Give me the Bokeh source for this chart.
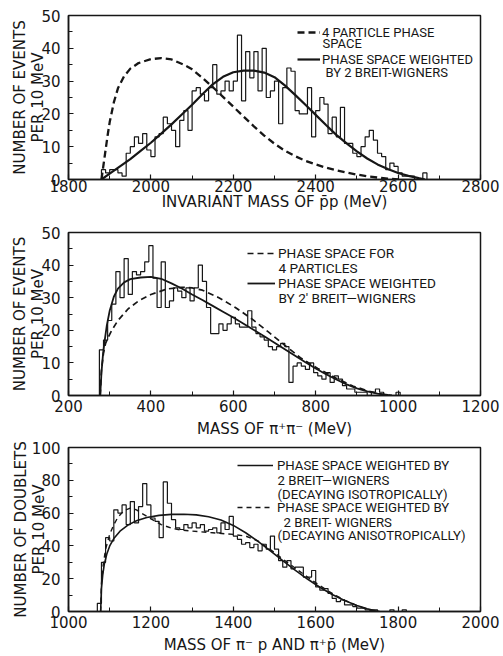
from bokeh.plotting import figure
from bokeh.layouts import column
from bokeh.models import Range1d, SingleIntervalTicker, Legend, LegendItem, Label
from bokeh.embed import file_html
from bokeh.resources import INLINE

INK = "#161616"
NUM_FONT = "DejaVu Sans"
LEG_FONT = "Roboto"

# ---------------- Panel 1: invariant mass of p-bar p ----------------
p1_bin_start = 1880
p1_bin_width = 10
p1_counts = [3, 2, 3, 3, 2, 1, 8, 10, 13, 11, 14, 9, 7, 13, 14, 19, 17, 15, 10, 18,
             21, 15, 27, 28, 26, 24, 28, 35, 26, 27, 30, 27, 30, 44, 24, 39, 31, 39, 27, 40,
             25, 27, 30, 17, 28, 34, 33, 21, 20, 20, 28, 13, 21, 25, 23, 14, 19, 13, 22, 11,
             11, 8, 7, 10, 13, 15, 12, 8, 7, 3, 5, 4, 2, 1, 1, 1, 0, 0, 2]
p1_ps_mass = [1880, 1885, 1890, 1895, 1900, 1910, 1920, 1935, 1950, 1970, 2000, 2025, 2050,
              2080, 2100, 2125, 2150, 2175, 2200, 2225, 2250, 2275, 2300, 2325, 2350, 2375,
              2400, 2425, 2450, 2475, 2500, 2525, 2550, 2575, 2600]
p1_ps_vals = [0, 4.5, 9, 13.5, 17.5, 23.5, 27.8, 31.5, 33.8, 35.5, 36.7, 37.0, 36.6,
              35.0, 33.6, 31.0, 28.2, 25.2, 22.2, 19.2, 16.2, 13.4, 10.9, 8.8, 7.1, 5.7,
              4.6, 3.6, 2.8, 2.1, 1.5, 1.0, 0.6, 0.25, 0]
p1_bw_mass = [1880, 1900, 1925, 1950, 1975, 2000, 2025, 2050, 2075, 2100, 2125, 2150, 2175,
              2200, 2225, 2250, 2275, 2300, 2325, 2350, 2375, 2400, 2425, 2450, 2475, 2500,
              2525, 2550, 2575, 2600, 2625, 2650, 2665]
p1_bw_vals = [0, 1.8, 4.0, 6.2, 8.7, 11.2, 14.0, 16.8, 19.8, 22.8, 26.0, 29.0, 31.3,
              32.7, 33.2, 33.2, 32.6, 31.2, 28.7, 25.8, 22.8, 19.7, 16.6, 13.6, 11.0, 8.6,
              6.4, 4.6, 3.2, 2.0, 1.1, 0.4, 0]

# ---------------- Panel 2: mass of pi+ pi- ----------------
p2_bin_start = 275
p2_bin_width = 10
p2_counts = [14, 17, 23, 28, 38, 30, 42, 31, 38, 37, 38, 41, 46, 36, 27, 41, 27, 29, 33, 32,
             30, 33, 29, 33, 40, 35, 27, 19, 19, 22, 20, 22, 24, 22, 21, 21, 26, 21, 19, 18,
             17, 15, 14, 15, 16, 15, 4, 9, 10, 9, 8, 10, 7, 6, 5, 7, 4, 6, 5, 3,
             2, 2, 1, 1, 1, 0, 1, 2, 1, 0, 0, 0, 1]
p2_ps_mass = [277, 280, 285, 290, 295, 305, 320, 345, 370, 400, 440, 475, 500, 525, 565,
              605, 645, 685, 725, 765, 805, 850, 890, 930, 960, 980]
p2_ps_vals = [0, 8, 13, 16, 17.5, 20, 23, 26.6, 29, 31, 32.7, 33.2, 33, 32.3, 30,
              27, 23.5, 19.5, 15.4, 11.4, 8.3, 5.3, 2.9, 1.3, 0.4, 0]
p2_bw_mass = [277, 280, 284, 288, 293, 300, 310, 320, 335, 350, 375, 400, 425, 450, 475,
              500, 525, 550, 575, 600, 625, 650, 675, 700, 725, 750, 775, 800, 825, 850,
              875, 900, 925, 950, 975, 985]
p2_bw_vals = [0, 7, 13, 17, 21.5, 26, 30.3, 32.8, 34.7, 35.7, 36.2, 36.4, 35.8, 34.4, 32.8,
              31, 29.3, 27.5, 25.7, 23.9, 22, 20.1, 18.2, 16.2, 14.2, 12.2, 10.2, 8.3, 6.5, 4.9,
              3.4, 2.2, 1.3, 0.6, 0.15, 0]

# ---------------- Panel 3: mass of pi- p and pi+ p-bar ----------------
p3_bin_start = 1070
p3_bin_width = 10
p3_counts = [5, 30, 45, 43, 62, 60, 65, 53, 67, 54, 64, 78, 65, 57, 55, 45, 79, 66, 56, 51,
             50, 53, 51, 54, 51, 53, 49, 50, 51, 48, 54, 50, 58, 46, 44, 41, 42, 39, 41, 37,
             41, 38, 46, 38, 31, 27, 31, 26, 27, 27, 21, 21, 25, 15, 13, 14, 11, 8, 6, 7,
             4, 4, 3, 2, 2, 1, 1, 1, 0, 0, 0, 1, 0, 0, 1]
p3_iso_mass = [1078, 1080, 1083, 1087, 1093, 1100, 1110, 1125, 1145, 1165, 1190, 1220, 1250,
               1280, 1310, 1340, 1370, 1400, 1430, 1460, 1490, 1520, 1550, 1580, 1610, 1640,
               1670, 1700, 1725, 1745, 1755]
p3_iso_vals = [0, 14, 22, 29, 35, 40, 44.5, 49, 52.8, 55.3, 57.3, 58.6, 59.2,
               59.3, 58.9, 57.8, 55.8, 52.5, 48, 42.8, 37, 31, 25.2, 19.8, 14.8, 10.4,
               6.7, 3.7, 1.7, 0.5, 0]
p3_aniso_mass = [1078, 1080, 1084, 1090, 1100, 1110, 1120, 1135, 1150, 1165, 1180, 1200, 1225,
                 1250, 1275, 1300, 1350, 1400, 1430, 1460, 1490, 1520, 1550, 1580, 1610, 1640,
                 1670, 1700, 1725, 1745]
p3_aniso_vals = [0, 17, 28, 38, 47, 53, 57.5, 61.5, 63, 62, 59.5, 56.5, 53,
                 50.8, 49.6, 49, 48, 47, 46, 43, 37.8, 32, 26.5, 21, 15.8, 11,
                 7, 3.6, 1.4, 0]

# ---------------- texts ----------------
p1_xlabel = "INVARIANT MASS OF p\u0304p (MeV)"
p1_ylabel = "NUMBER OF EVENTS\nPER 10 MeV"
p1_legend = ["4 PARTICLE PHASE", "PHASE SPACE WEIGHTED"]
p1_legend_more = ["SPACE", "BY 2 BREIT-WIGNERS"]
p2_xlabel = "MASS OF \u03c0\u207a\u03c0\u207b (MeV)"
p2_ylabel = "NUMBER OF EVENTS\nPER 10 MeV"
p2_legend = ["PHASE SPACE FOR", "PHASE SPACE WEIGHTED"]
p2_legend_more = ["4 PARTICLES", "BY 2' BREIT\u2014WIGNERS"]
p3_xlabel = "MASS OF \u03c0\u207b p AND \u03c0\u207ap\u0304 (MeV)"
p3_ylabel = "NUMBER OF DOUBLETS\nPER 10 MeV"
p3_legend = ["PHASE SPACE WEIGHTED BY", "PHASE SPACE WEIGHTED BY"]
p3_legend_more = ["2 BREIT\u2014WIGNERS", "(DECAYING ISOTROPICALLY)",
                  "2 BREIT- WIGNERS", "(DECAYING ANISOTROPICALLY)"]


def outline(start, width, counts):
    xs, ys = [start], [0]
    for i, c in enumerate(counts):
        x0 = start + i * width
        xs += [x0, x0 + width]
        ys += [c, c]
    xs.append(start + len(counts) * width)
    ys.append(0)
    return xs, ys


def base_fig(height, top, bottom, xr, yr, xstep, ystep, xlabel, ylabel,
             tick_sd, xlab_sd, ylab_sd):
    p = figure(width=503, height=height, x_range=Range1d(*xr), y_range=Range1d(*yr),
               output_backend="svg", toolbar_location=None,
               min_border_left=68, min_border_right=23,
               min_border_top=top, min_border_bottom=bottom)
    p.xgrid.visible = False
    p.ygrid.visible = False
    p.background_fill_color = "white"
    p.border_fill_color = "white"
    p.outline_line_color = INK
    p.outline_line_width = 1.5
    p.outline_line_alpha = 1
    p.xaxis.ticker = SingleIntervalTicker(interval=xstep, num_minor_ticks=2)
    p.yaxis.ticker = SingleIntervalTicker(interval=ystep, num_minor_ticks=2)
    for ax in (p.xaxis[0], p.yaxis[0]):
        ax.axis_line_color = INK
        ax.axis_line_width = 1.5
        ax.major_tick_in = 5
        ax.major_tick_out = 0
        ax.minor_tick_in = 4
        ax.minor_tick_out = 0
        ax.major_tick_line_color = INK
        ax.minor_tick_line_color = INK
        ax.major_tick_line_width = 1.2
        ax.minor_tick_line_width = 1.0
        ax.major_label_text_font = NUM_FONT
        ax.major_label_text_font_size = "15px"
        ax.major_label_text_color = INK
        ax.axis_label_text_font = NUM_FONT
        ax.axis_label_text_font_size = "15px"
        ax.axis_label_text_font_style = "normal"
        ax.axis_label_text_color = INK
    p.xaxis.major_label_standoff = tick_sd
    p.yaxis.major_label_standoff = 8
    p.yaxis.axis_label_text_line_height = 1.0
    p.xaxis.axis_label = xlabel
    p.yaxis.axis_label = ylabel
    p.xaxis.axis_label_standoff = xlab_sd
    p.yaxis.axis_label_standoff = ylab_sd
    return p


def add_legend(p, entries, loc, size, gw, sd, item_h, spacing):
    items = [LegendItem(label=t, renderers=[r]) for r, t in entries]
    leg = Legend(items=items, location=loc, orientation="vertical",
                 border_line_color=None, background_fill_alpha=0,
                 label_text_font=LEG_FONT, label_text_font_size=size,
                 label_text_color=INK, label_text_baseline="middle",
                 glyph_width=gw, glyph_height=item_h, label_height=item_h,
                 label_standoff=sd, spacing=spacing, padding=0, margin=0)
    p.add_layout(leg)


def add_lines(p, texts, positions, size):
    # extra legend lines, positioned in screen pixels from the frame's bottom-left
    for t, (sx, sy) in zip(texts, positions):
        p.add_layout(Label(x=sx, y=sy, x_units="screen", y_units="screen", text=t,
                           text_font=LEG_FONT, text_font_size=size, text_color=INK,
                           text_align="left", text_baseline="middle"))


# ---------- figure 1 ----------
f1 = base_fig(220, 15, 41, (1800, 2800), (0, 50), 200, 10, p1_xlabel, p1_ylabel, 0, -2, -9)
hx, hy = outline(p1_bin_start, p1_bin_width, p1_counts)
f1.line(hx, hy, line_color=INK, line_width=1.2)
r1d = f1.line(p1_ps_mass, p1_ps_vals, line_color=INK, line_width=2.3, line_dash="7 4")
r1s = f1.line(p1_bw_mass, p1_bw_vals, line_color=INK, line_width=2.2)
add_legend(f1, [(r1d, p1_legend[0]), (r1s, p1_legend[1])], (229, 109), "13px", 23, 2, 22, 5)
add_lines(f1, p1_legend_more, [(254, 136), (257, 107)], "13px")

# ---------- figure 2 ----------
f2 = base_fig(220, 12, 45, (200, 1200), (0, 50), 200, 10, p2_xlabel, p2_ylabel, 4, 5, -9)
hx, hy = outline(p2_bin_start, p2_bin_width, p2_counts)
f2.line(hx, hy, line_color=INK, line_width=1.2)
r2d = f2.line(p2_ps_mass, p2_ps_vals, line_color=INK, line_width=1.7, line_dash="6 4")
r2s = f2.line(p2_bw_mass, p2_bw_vals, line_color=INK, line_width=1.8)
add_legend(f2, [(r2d, p2_legend[0]), (r2s, p2_legend[1])], (179, 101), "13.6px", 28, 3, 22, 8)
add_lines(f2, p2_legend_more, [(210, 128), (210, 98)], "13.6px")

# ---------- figure 3 ----------
f3 = base_fig(216, 7, 45, (1000, 2000), (0, 100), 200, 20, p3_xlabel, p3_ylabel, 4, 5, -19)
hx, hy = outline(p3_bin_start, p3_bin_width, p3_counts)
f3.line(hx, hy, line_color=INK, line_width=1.2)
r3s = f3.line(p3_iso_mass, p3_iso_vals, line_color=INK, line_width=1.6)
r3d = f3.line(p3_aniso_mass, p3_aniso_vals, line_color=INK, line_width=1.4, line_dash="5 4")
add_legend(f3, [(r3s, p3_legend[0]), (r3d, p3_legend[1])], (169, 89), "13.2px", 36, 4, 30, 12)
add_lines(f3, p3_legend_more, [(209, 131), (209, 117), (215, 89), (209, 76)], "13.2px")

layout = column(f1, f2, f3, spacing=0)
open("out.html", "w").write(file_html(layout, INLINE))
